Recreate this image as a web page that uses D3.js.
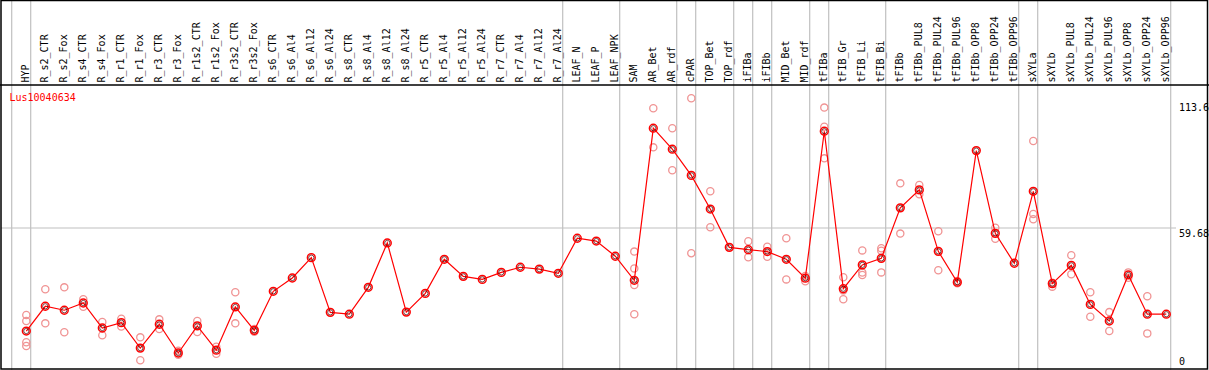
<!DOCTYPE html>
<html>
<head>
<meta charset="utf-8">
<script src="https://cdn.jsdelivr.net/npm/d3@7"></script>
<style>
  body { margin: 0; background: #fff; }
  svg { display: block; font-family: "DejaVu Sans Mono", monospace; }
</style>
</head>
<body>
<div id="chart"></div>
<script>
const geneName = "Lus10040634";

const samples = [
  "HYP", "R_s2_CTR", "R_s2_Fox", "R_s4_CTR", "R_s4_Fox", "R_r1_CTR", "R_r1_Fox",
  "R_r3_CTR", "R_r3_Fox", "R_r1s2_CTR", "R_r1s2_Fox", "R_r3s2_CTR", "R_r3s2_Fox",
  "R_s6_CTR", "R_s6_Al4", "R_s6_Al12", "R_s6_Al24", "R_s8_CTR", "R_s8_Al4",
  "R_s8_Al12", "R_s8_Al24", "R_r5_CTR", "R_r5_Al4", "R_r5_Al12", "R_r5_Al24",
  "R_r7_CTR", "R_r7_Al4", "R_r7_Al12", "R_r7_Al24", "LEAF_N", "LEAF_P", "LEAF_NPK",
  "SAM", "AR_Bet", "AR_rdf", "cPAR", "TOP_Bet", "TOP_rdf", "iFIBa", "iFIBb",
  "MID_Bet", "MID_rdf", "tFIBa", "tFIB_Gr", "tFIB_Li", "tFIB_Bi", "tFIBb",
  "tFIBb_PUL8", "tFIBb_PUL24", "tFIBb_PUL96", "tFIBb_OPP8", "tFIBb_OPP24",
  "tFIBb_OPP96", "sXYLa", "sXYLb", "sXYLb_PUL8", "sXYLb_PUL24", "sXYLb_PUL96",
  "sXYLb_OPP8", "sXYLb_OPP24", "sXYLb_OPP96"
];

const means = [
  15.6, 26.2, 24.5, 27.6, 16.9, 19.2, 8.3, 18.5, 6.2, 17.8, 7.4, 25.9, 15.9,
  32.6, 38.3, 47.0, 23.6, 22.8, 34.3, 53.3, 23.7, 31.7, 46.3, 39.0, 37.7,
  40.7, 42.9, 42.1, 40.3, 55.3, 54.1, 47.6,
  37.3, 102.4, 93.4, 82.2, 67.8, 51.4, 50.4, 49.6, 46.3, 38.2,
  101.1, 33.7, 43.9, 46.7, 68.3, 76.0, 49.7, 36.5, 92.8, 57.4, 44.6,
  75.4, 35.9, 43.7, 27.0, 19.9, 39.6, 22.8, 22.8
];

const replicates = [
  [22.5, 19.9, 10.8, 9.2], [33.5, 18.9], [34.3, 15.1], [29.2, 26.0], [19.5, 13.8],
  [20.9, 17.5], [12.9, 3.1], [20.6, 16.5], [7.2, 5.5], [19.9, 15.2], [8.9, 5.9],
  [32.2, 18.9], [15.3, 16.5],
  [], [], [], [], [], [], [], [], [], [], [], [], [], [], [], [], [], [], [],
  [49.6, 42.4, 35.3, 22.8], [110.9, 94.2], [102.4, 84.4], [115.2, 48.9],
  [75.4, 60.0], [], [54.0, 47.2], [51.7, 47.4], [55.3, 37.7], [39.2, 36.9],
  [111.2, 103.0, 89.5], [38.6, 33.0, 29.2], [50.1, 40.6, 39.6], [51.0, 50.0, 40.7],
  [78.8, 57.3], [78.1, 74.1], [58.3, 41.6], [37.0, 36.0], [], [59.8, 55.1], [],
  [96.9, 65.7, 63.4], [36.3, 34.6], [48.0, 39.9], [32.2, 21.7], [23.7, 15.6],
  [40.7, 38.4], [30.5, 14.6], []
];

// last sample of each group (a grey divider is drawn after it)
const groupEnds = [
  "HYP", "R_r7_Al24", "LEAF_NPK", "AR_rdf", "cPAR", "TOP_rdf", "iFIBa", "iFIBb",
  "MID_rdf", "tFIBa", "tFIB_Bi", "tFIBb_OPP96", "sXYLa", "sXYLb_OPP96"
];

const yTicks = [0, 59.68, 113.6];

const width = 1209;
const height = 370;
const headerBottom = 85;

const svg = d3.select("#chart")
  .append("svg")
  .attr("width", width)
  .attr("height", height);

const x = d3.scalePoint()
  .domain(samples)
  .range([26.3, 1166.3]);
const step = x.step();

const y = d3.scaleLinear()
  .domain([0, 113.6])
  .range([367.5, 102]);

// vertical group dividers
const dividers = [x(samples[0]) - step + 4.4].concat(groupEnds.map((s) => x(s) + 4.4));
svg.append("g")
  .selectAll("line")
  .data(dividers)
  .enter()
  .append("line")
  .attr("x1", (d) => d)
  .attr("x2", (d) => d)
  .attr("y1", 0)
  .attr("y2", height)
  .attr("stroke", "#c0c0c0")
  .attr("stroke-width", 1.2);

// horizontal mid gridline
svg.append("line")
  .attr("x1", 1)
  .attr("x2", 1176)
  .attr("y1", y(yTicks[1]))
  .attr("y2", y(yTicks[1]))
  .attr("stroke", "#c0c0c0")
  .attr("stroke-width", 1.2);

// frame
svg.append("rect")
  .attr("x", 1)
  .attr("y", 0.5)
  .attr("width", 1206.5)
  .attr("height", 368.5)
  .attr("fill", "none")
  .attr("stroke", "#000")
  .attr("stroke-width", 1.5);

svg.append("line")
  .attr("x1", 0)
  .attr("x2", width)
  .attr("y1", headerBottom)
  .attr("y2", headerBottom)
  .attr("stroke", "#000")
  .attr("stroke-width", 1.3);

// rotated sample labels
svg.append("g")
  .selectAll("text")
  .data(samples)
  .enter()
  .append("text")
  .attr("transform", (d) => "translate(" + (x(d) + 2.5) + "," + 82.5 + ") rotate(-90)")
  .attr("font-size", "10px")
  .attr("fill", "#000")
  .text((d) => d);

// gene title
svg.append("text")
  .attr("x", 9.5)
  .attr("y", 101.3)
  .attr("font-size", "10px")
  .attr("fill", "#ff0000")
  .text(geneName);

// right axis
const yAxis = svg.append("g")
  .attr("transform", "translate(1179,0)")
  .call(d3.axisRight(y).tickValues(yTicks).tickSize(0).tickPadding(0).tickFormat((d) => String(d)));
yAxis.select(".domain").remove();
yAxis.selectAll("text")
  .style("font-family", "DejaVu Sans Mono, monospace")
  .style("font-size", "10px")
  .attr("fill", "#000")
  .attr("dy", (d) => (d === 0 ? "-0.26em" : "0.8em"));

// replicate points
const repPoints = [];
samples.forEach((s, i) => {
  replicates[i].forEach((v) => repPoints.push({ s: s, v: v }));
});
svg.append("g")
  .selectAll("circle")
  .data(repPoints)
  .enter()
  .append("circle")
  .attr("cx", (d) => x(d.s))
  .attr("cy", (d) => y(d.v))
  .attr("r", 3.6)
  .attr("fill", "none")
  .attr("stroke", "#f09494")
  .attr("stroke-width", 1.3);

// mean line
const meanData = samples.map((s, i) => ({ s: s, v: means[i] }));
svg.append("path")
  .datum(meanData)
  .attr("d", d3.line().x((d) => x(d.s)).y((d) => y(d.v)))
  .attr("fill", "none")
  .attr("stroke", "#ff0000")
  .attr("stroke-width", 1.2);

const meanMarks = svg.append("g")
  .selectAll("g")
  .data(meanData)
  .enter()
  .append("g")
  .attr("transform", (d) => "translate(" + x(d.s) + "," + y(d.v) + ")");
meanMarks.append("circle")
  .attr("r", 3.9)
  .attr("fill", "none")
  .attr("stroke", "#ff0000")
  .attr("stroke-width", 1.5);
meanMarks.append("circle")
  .attr("r", 2.6)
  .attr("fill", "none")
  .attr("stroke", "#400000")
  .attr("stroke-width", 0.7);
</script>
</body>
</html>
